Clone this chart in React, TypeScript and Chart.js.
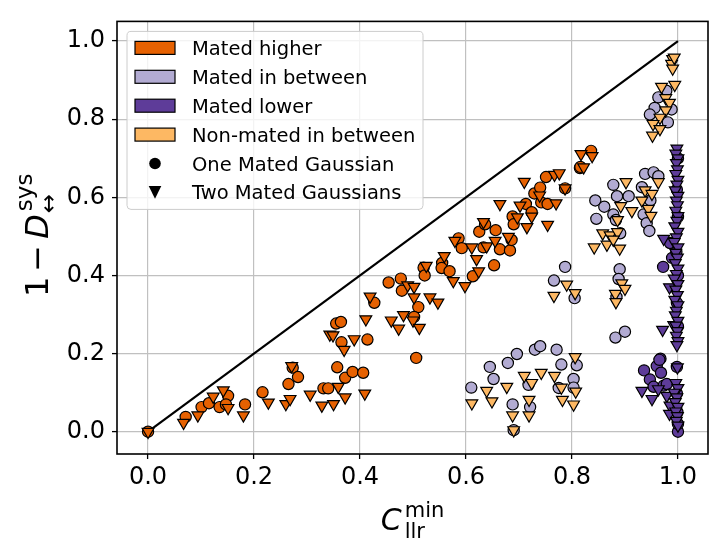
import React, { useEffect, useRef } from "react";
import { Chart, registerables } from "chart.js";

Chart.register(...registerables);

type Pt = [number, number];

const xTickValues = [0, 0.2, 0.4, 0.6, 0.8, 1.0];
const yTickValues = [0, 0.2, 0.4, 0.6, 0.8, 1.0];
const xRange: Pt = [-0.0586, 1.0567];
const yRange: Pt = [-0.057, 1.0504];

const categoryLabels = ["Mated higher", "Mated in between", "Mated lower", "Non-mated in between"];
const categoryColors = ["#e66101", "#b2abd2", "#5e3c99", "#fdb863"];
const shapeLabels = ["One Mated Gaussian", "Two Mated Gaussians"];

const diagonalLine: Pt[] = [[0, 0], [1, 1]];

const matedHigherOne: Pt[] = [
  [0, 0], [0.071, 0.038], [0.101, 0.063], [0.115, 0.073], [0.135, 0.063], [0.151, 0.092],
  [0.147, 0.07], [0.183, 0.07], [0.216, 0.101], [0.265, 0.122], [0.273, 0.164], [0.283, 0.14],
  [0.331, 0.111], [0.34, 0.111], [0.357, 0.165], [0.372, 0.138], [0.386, 0.153], [0.406, 0.151],
  [0.506, 0.189], [0.355, 0.277], [0.364, 0.281], [0.365, 0.229], [0.414, 0.236], [0.427, 0.33],
  [0.454, 0.382], [0.477, 0.392], [0.479, 0.361], [0.51, 0.319], [0.502, 0.294], [0.52, 0.42],
  [0.522, 0.4], [0.555, 0.432], [0.554, 0.419], [0.569, 0.411], [0.586, 0.495], [0.592, 0.47],
  [0.613, 0.398], [0.625, 0.512], [0.636, 0.531], [0.633, 0.472], [0.653, 0.426], [0.656, 0.516],
  [0.664, 0.467], [0.683, 0.464], [0.686, 0.491], [0.688, 0.551], [0.69, 0.531], [0.713, 0.583],
  [0.724, 0.562], [0.729, 0.61], [0.74, 0.625], [0.742, 0.587], [0.754, 0.583], [0.751, 0.652],
  [0.787, 0.623], [0.815, 0.675], [0.836, 0.719], [0.816, 0.678],
];

const matedHigherTwo: Pt[] = [
  [0, 0], [0.067, 0.023], [0.094, 0.042], [0.123, 0.09], [0.142, 0.106], [0.151, 0.061],
  [0.18, 0.042], [0.227, 0.075], [0.26, 0.071], [0.268, 0.084], [0.271, 0.168], [0.306, 0.095],
  [0.328, 0.067], [0.35, 0.071], [0.359, 0.115], [0.372, 0.088], [0.409, 0.098], [0.343, 0.249],
  [0.349, 0.247], [0.37, 0.21], [0.389, 0.237], [0.411, 0.288], [0.419, 0.346], [0.49, 0.375],
  [0.502, 0.371], [0.502, 0.344], [0.532, 0.344], [0.547, 0.331], [0.459, 0.285], [0.473, 0.264],
  [0.482, 0.299], [0.5, 0.285], [0.512, 0.266], [0.525, 0.425], [0.559, 0.45], [0.576, 0.386],
  [0.598, 0.373], [0.579, 0.489], [0.611, 0.472], [0.62, 0.442], [0.624, 0.411], [0.633, 0.537],
  [0.639, 0.475], [0.655, 0.489], [0.68, 0.499], [0.664, 0.583], [0.697, 0.549], [0.715, 0.524],
  [0.702, 0.579], [0.724, 0.551], [0.754, 0.53], [0.71, 0.64], [0.739, 0.605], [0.77, 0.585],
  [0.767, 0.658], [0.776, 0.662], [0.787, 0.623], [0.822, 0.677], [0.817, 0.711], [0.838, 0.706],
];

const matedBetweenOne: Pt[] = [
  [0.61, 0.113], [0.645, 0.166], [0.652, 0.135], [0.679, 0.176], [0.696, 0.199], [0.688, 0.07],
  [0.69, 0.004], [0.718, 0.12], [0.721, 0.063], [0.73, 0.21], [0.74, 0.219], [0.771, 0.21],
  [0.78, 0.172], [0.775, 0.112], [0.809, 0.17], [0.803, 0.135], [0.803, 0.113],
  [0.787, 0.422], [0.766, 0.387], [0.805, 0.342], [0.89, 0.416], [0.888, 0.391], [0.884, 0.345],
  [0.882, 0.241], [0.9, 0.256],
  [0.844, 0.592], [0.846, 0.545], [0.861, 0.576], [0.878, 0.632], [0.885, 0.603], [0.907, 0.603],
  [0.878, 0.556], [0.883, 0.542], [0.891, 0.508], [0.938, 0.66], [0.954, 0.664], [0.963, 0.654],
  [0.932, 0.626], [0.948, 0.592], [0.935, 0.556], [0.941, 0.534], [0.946, 0.514],
  [0.978, 0.873], [0.963, 0.856], [0.988, 0.825], [0.956, 0.829], [0.947, 0.812], [0.981, 0.792],
];

const matedLowerOne: Pt[] = [
  [0.972, 0.422], [0.989, 0.445], [0.985, 0.483], [0.967, 0.187], [0.96, 0.168], [0.936, 0.157],
  [0.968, 0.151], [0.947, 0.134], [0.998, 0.166], [0.954, 0.115], [0.973, 0.118], [0.998, 0.098],
  [0.979, 0.122], [0.965, 0.184], [1.0, 0.0], [1.0, 0.7], [0.998, 0.62], [1.0, 0.55], [0.997, 0.46],
  [1.0, 0.4], [0.998, 0.33], [1.0, 0.27], [0.999, 0.05], [1.0, 0.02],
];

const matedLowerTwo: Pt[] = [
  [0.973, 0.494], [0.984, 0.37], [0.971, 0.261], [0.992, 0.273], [0.932, 0.105], [0.951, 0.084],
  [0.963, 0.109], [0.979, 0.092], [0.985, 0.067], [0.984, 0.046],
  [0.998, 0.725], [0.996, 0.712], [1.0, 0.7], [0.997, 0.688], [0.999, 0.672], [0.996, 0.66],
  [1.0, 0.645], [0.998, 0.633], [0.995, 0.618], [1.0, 0.604], [0.997, 0.592], [0.999, 0.58],
  [0.996, 0.566], [1.0, 0.552], [0.998, 0.54], [0.994, 0.526], [1.0, 0.512], [0.997, 0.498],
  [0.993, 0.486], [1.0, 0.472], [0.996, 0.458], [0.999, 0.446], [0.995, 0.432], [1.0, 0.418],
  [0.997, 0.404], [0.993, 0.392], [1.0, 0.378], [0.996, 0.364], [0.999, 0.35], [0.994, 0.338],
  [1.0, 0.324], [0.997, 0.31], [0.995, 0.298], [1.0, 0.284], [0.996, 0.272], [0.999, 0.258],
  [0.997, 0.246], [1.0, 0.232], [0.998, 0.222],
  [0.999, 0.165], [0.996, 0.125], [1.0, 0.112], [0.993, 0.1], [0.998, 0.088], [0.995, 0.076],
  [1.0, 0.064], [0.996, 0.052], [0.999, 0.04], [0.997, 0.028], [1.0, 0.016],
];

const nonMatedBetweenTwo: Pt[] = [
  [0.611, 0.073], [0.639, 0.105], [0.649, 0.078], [0.677, 0.115], [0.688, 0.042], [0.69, 0.004],
  [0.71, 0.143], [0.724, 0.125], [0.719, 0.082], [0.719, 0.042], [0.742, 0.151], [0.767, 0.143],
  [0.78, 0.113], [0.782, 0.082], [0.806, 0.191], [0.807, 0.103], [0.803, 0.07],
  [0.79, 0.377], [0.766, 0.348], [0.806, 0.355], [0.894, 0.38], [0.9, 0.366], [0.882, 0.353],
  [0.883, 0.332],
  [0.902, 0.639], [0.892, 0.578], [0.913, 0.565], [0.886, 0.542], [0.858, 0.508], [0.872, 0.503],
  [0.886, 0.511], [0.866, 0.479], [0.878, 0.492], [0.89, 0.469], [0.842, 0.472], [0.963, 0.639],
  [0.938, 0.618], [0.951, 0.609], [0.932, 0.592], [0.944, 0.571], [0.949, 0.553],
  [0.99, 0.954], [0.988, 0.942], [0.99, 0.93], [0.993, 0.958], [0.969, 0.883], [0.994, 0.888],
  [0.977, 0.854], [0.984, 0.842], [0.977, 0.823], [0.966, 0.804], [0.953, 0.788], [0.966, 0.775],
  [0.952, 0.758],
];

const FONT = '"DejaVu Sans", "Noto Sans", sans-serif';

const toXY = (pts: Pt[]) => pts.map(([x, y]) => ({ x, y }));

const circleSet = (pts: Pt[], color: string) => ({
  type: "scatter" as const,
  data: toXY(pts),
  pointStyle: "circle",
  pointRadius: 5.6,
  pointBackgroundColor: color,
  pointBorderColor: "#000",
  pointBorderWidth: 1.2,
  showLine: false,
});

const triangleSet = (pts: Pt[], color: string) => ({
  type: "scatter" as const,
  data: toXY(pts),
  pointStyle: "triangle",
  rotation: 180,
  pointRotation: 180,
  pointRadius: 6.8,
  pointBackgroundColor: color,
  pointBorderColor: "#000",
  pointBorderWidth: 1.2,
  showLine: false,
});

const decorPlugin = {
  id: "decor",
  afterDraw(chart: any) {
    const ctx: CanvasRenderingContext2D = chart.ctx;
    const a = chart.chartArea;
    ctx.save();
    // spines
    ctx.strokeStyle = "#000";
    ctx.lineWidth = 1.6;
    ctx.strokeRect(a.left, a.top, a.right - a.left, a.bottom - a.top);

    // legend
    const bx = a.left + 10;
    const by = a.top + 10;
    const bw = 296;
    const bh = 178;
    const r = 4;
    ctx.beginPath();
    ctx.moveTo(bx + r, by);
    ctx.lineTo(bx + bw - r, by);
    ctx.arcTo(bx + bw, by, bx + bw, by + r, r);
    ctx.lineTo(bx + bw, by + bh - r);
    ctx.arcTo(bx + bw, by + bh, bx + bw - r, by + bh, r);
    ctx.lineTo(bx + r, by + bh);
    ctx.arcTo(bx, by + bh, bx, by + bh - r, r);
    ctx.lineTo(bx, by + r);
    ctx.arcTo(bx, by, bx + r, by, r);
    ctx.closePath();
    ctx.fillStyle = "rgba(255,255,255,0.8)";
    ctx.fill();
    ctx.strokeStyle = "#cccccc";
    ctx.lineWidth = 1;
    ctx.stroke();

    const rowY0 = by + 16.5;
    const rowH = 28.9;
    ctx.font = `19.5px ${FONT}`;
    ctx.textBaseline = "alphabetic";
    ctx.textAlign = "left";
    categoryLabels.forEach((lab, i) => {
      const cy = rowY0 + i * rowH;
      ctx.fillStyle = categoryColors[i];
      ctx.fillRect(bx + 8, cy - 6.5, 40, 13);
      ctx.strokeStyle = "#000";
      ctx.lineWidth = 1.2;
      ctx.strokeRect(bx + 8, cy - 6.5, 40, 13);
      ctx.fillStyle = "#000";
      ctx.fillText(lab, bx + 65, cy + 7);
    });
    shapeLabels.forEach((lab, j) => {
      const cy = rowY0 + (4 + j) * rowH;
      const cx = bx + 28;
      ctx.fillStyle = "#000";
      ctx.beginPath();
      if (j === 0) {
        ctx.arc(cx, cy, 5.8, 0, Math.PI * 2);
      } else {
        ctx.moveTo(cx - 6.3, cy - 6.3);
        ctx.lineTo(cx + 6.3, cy - 6.3);
        ctx.lineTo(cx, cy + 6.3);
        ctx.closePath();
      }
      ctx.fill();
      ctx.fillText(lab, bx + 65, cy + 7);
    });

    // x title: C_llr^min
    const cxMid = (a.left + a.right) / 2;
    ctx.font = `italic 30px ${FONT}`;
    const wC = ctx.measureText("C").width;
    ctx.font = `21px ${FONT}`;
    const wSub = ctx.measureText("llr").width;
    const wSup = ctx.measureText("min").width;
    const total = wC + 3 + Math.max(wSub, wSup);
    const x0 = cxMid - total / 2;
    const base = 530;
    ctx.fillStyle = "#000";
    ctx.font = `italic 30px ${FONT}`;
    ctx.fillText("C", x0, base);
    ctx.font = `21px ${FONT}`;
    ctx.fillText("min", x0 + wC + 3, base - 13);
    ctx.fillText("llr", x0 + wC + 3, base + 8);

    // y title: 1 − D_↔^sys (rotated)
    ctx.save();
    ctx.translate(48, 297);
    ctx.rotate(-Math.PI / 2);
    ctx.font = `32px ${FONT}`;
    ctx.fillText("1", 0, 0);
    let px = ctx.measureText("1").width + 5;
    ctx.fillText("\u2212", px, 0);
    px += ctx.measureText("\u2212").width + 6;
    ctx.font = `italic 32px ${FONT}`;
    ctx.fillText("D", px, 0);
    px += ctx.measureText("D").width + 3;
    ctx.font = `23px ${FONT}`;
    ctx.fillText("sys", px, -16);
    ctx.fillText("\u2194", px - 2, 8);
    ctx.restore();

    ctx.restore();
  },
};

export default function App() {
  const canvasRef = useRef<HTMLCanvasElement | null>(null);

  useEffect(() => {
    document.body.style.margin = "0";
    const canvas = canvasRef.current;
    if (!canvas) return;
    const tickFmt = (v: any) => Number(v).toFixed(1);
    const chart = new Chart(canvas, {
      type: "scatter",
      data: {
        datasets: [
          triangleSet(nonMatedBetweenTwo, categoryColors[3]),
          triangleSet(matedLowerTwo, categoryColors[2]),
          circleSet(matedLowerOne, categoryColors[2]),
          circleSet(matedBetweenOne, categoryColors[1]),
          triangleSet(matedHigherTwo, categoryColors[0]),
          circleSet(matedHigherOne, categoryColors[0]),
          {
            type: "line" as const,
            data: toXY(diagonalLine),
            borderColor: "#000",
            borderWidth: 2.2,
            pointRadius: 0,
            fill: false,
            tension: 0,
          },
        ] as any,
      },
      options: {
        animation: false,
        responsive: false,
        devicePixelRatio: 1,
        layout: { padding: { left: 0, right: 12, top: 15, bottom: 0 } },
        plugins: { legend: { display: false }, tooltip: { enabled: false } },
        font: { family: FONT },
        scales: {
          x: {
            type: "linear",
            min: xRange[0],
            max: xRange[1],
            afterBuildTicks: (s: any) => {
              s.ticks = xTickValues.map((v) => ({ value: v }));
            },
            afterFit: (s: any) => {
              s.height = 88;
            },
            ticks: {
              callback: tickFmt,
              font: { family: FONT, size: 24 },
              color: "#000",
              padding: 4,
              maxRotation: 0,
              autoSkip: false,
            },
            grid: { color: "#c0c0c0", lineWidth: 1.2, tickColor: "#000", tickLength: 5, tickWidth: 1.3 },
            border: { display: false },
          },
          y: {
            type: "linear",
            min: yRange[0],
            max: yRange[1],
            afterBuildTicks: (s: any) => {
              s.ticks = yTickValues.map((v) => ({ value: v }));
            },
            afterFit: (s: any) => {
              s.width = 117;
            },
            ticks: {
              callback: tickFmt,
              font: { family: FONT, size: 24 },
              color: "#000",
              padding: 7,
              autoSkip: false,
            },
            grid: { color: "#c0c0c0", lineWidth: 1.2, tickColor: "#000", tickLength: 5, tickWidth: 1.3 },
            border: { display: false },
          },
        },
      } as any,
      plugins: [decorPlugin],
    });
    return () => chart.destroy();
  }, []);

  return (
    <div style={{ width: 720, height: 542, position: "relative", background: "#fff" }}>
      <canvas ref={canvasRef} width={720} height={542} style={{ display: "block" }} />
    </div>
  );
}
